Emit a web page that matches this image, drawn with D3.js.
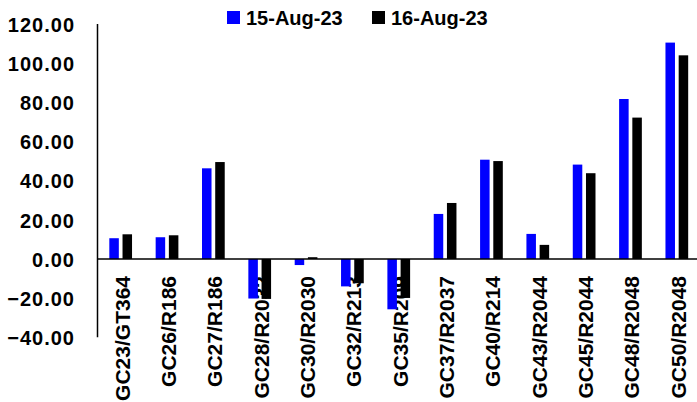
<!DOCTYPE html>
<html>
<head>
<meta charset="utf-8">
<script src="https://cdn.jsdelivr.net/npm/d3@7"></script>
<style>
  html, body { margin: 0; padding: 0; background: #fff; }
  svg { display: block; font-family: "Liberation Sans", Arial, sans-serif; font-weight: bold; }
</style>
</head>
<body>
<svg id="chart" width="697" height="402"></svg>
<script>
// Bond codes on the horizontal axis
const categories = ["GC23/GT364", "GC26/R186", "GC27/R186", "GC28/R2032", "GC30/R2030",
  "GC32/R213", "GC35/R209", "GC37/R2037", "GC40/R214", "GC43/R2044",
  "GC45/R2044", "GC48/R2048", "GC50/R2048"];

// Spread values per date
const seriesNames = ["15-Aug-23", "16-Aug-23"];
const aug15 = [10.6, 11.1, 46.3, -20.2, -3.1, -14.0, -25.7, 23.0, 50.7, 12.8, 48.2, 81.7, 110.5];
const aug16 = [12.6, 12.1, 49.5, -20.4, 0.9, -12.4, -19.9, 28.6, 50.0, 7.2, 43.8, 72.2, 104.0];
const seriesColors = ["#0000ff", "#000000"];

const yTicks = [-40, -20, 0, 20, 40, 60, 80, 100, 120];

const svg = d3.select("#chart");
const margin = { left: 97.5, top: 24 };
const W = 697, H = 402;

// The category band runs slightly past the right edge of the canvas
const x = d3.scaleBand().domain(categories).range([margin.left, 700]).padding(0);
const y = d3.scaleLinear().domain([-40, 120]).range([337.3, 24]);
const xs = d3.scaleBand().domain(seriesNames).range([0, x.bandwidth()]).paddingInner(0.28).paddingOuter(0.894);

// Y axis labels and line
const yAxis = d3.axisLeft(y).tickValues(yTicks).tickFormat(d3.format(".2f")).tickSize(0).tickPadding(0);
const gy = svg.append("g").attr("transform", `translate(${margin.left},0)`).call(yAxis);
gy.select(".domain").remove();
gy.selectAll("text")
  .attr("x", -22.5)
  .attr("dy", "0.36em")
  .attr("fill", "#000")
  .style("font-size", "20px")
  .style("letter-spacing", "1px")
  .style("font-family", "'Liberation Sans', Arial, sans-serif")
  .style("font-weight", "bold");

svg.append("line")
  .attr("x1", margin.left).attr("x2", margin.left)
  .attr("y1", y(120)).attr("y2", y(-40))
  .attr("stroke", "#000").attr("stroke-width", 1.5);

// Category labels, rotated, drawn beneath the bars
svg.append("g").selectAll("text")
  .data(categories)
  .join("text")
  .attr("transform", d => `translate(${x(d) + x.bandwidth() / 2 + 9},${y(0) + 17}) rotate(-90)`)
  .attr("text-anchor", "end")
  .attr("fill", "#000")
  .style("font-size", "21px")
  .text(d => d);

// Bars
const rows = categories.map((c, i) => ({ cat: c, vals: [aug15[i], aug16[i]] }));
const groups = svg.append("g").selectAll("g")
  .data(rows)
  .join("g")
  .attr("transform", d => `translate(${x(d.cat)},0)`);
groups.selectAll("rect")
  .data(d => d.vals.map((v, j) => ({ v, s: seriesNames[j], j })))
  .join("rect")
  .attr("x", d => xs(d.s))
  .attr("width", xs.bandwidth())
  .attr("y", d => Math.min(y(d.v), y(0)))
  .attr("height", d => Math.abs(y(d.v) - y(0)))
  .attr("fill", d => seriesColors[d.j]);

// Zero line
svg.append("line")
  .attr("x1", margin.left).attr("x2", W)
  .attr("y1", y(0)).attr("y2", y(0))
  .attr("stroke", "#000").attr("stroke-width", 1.5);

// Legend
const legendX = [227, 372];
const lg = svg.append("g").selectAll("g")
  .data(seriesNames)
  .join("g")
  .attr("transform", (d, i) => `translate(${legendX[i]},11)`);
lg.append("rect").attr("width", 13).attr("height", 13).attr("fill", (d, i) => seriesColors[i]);
lg.append("text")
  .attr("x", 19).attr("y", 14)
  .attr("fill", "#000")
  .style("font-size", "20px")
  .text(d => d);
</script>
</body>
</html>
